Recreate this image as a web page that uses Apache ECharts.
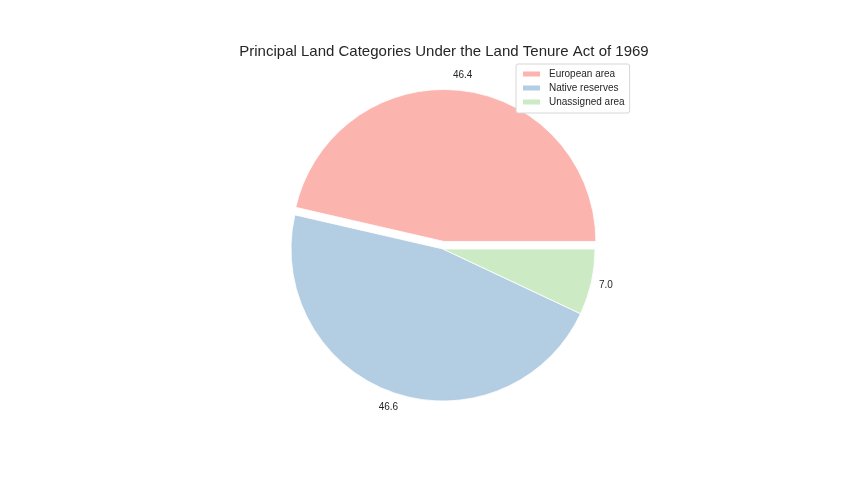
<!DOCTYPE html>
<html>
<head>
<meta charset="utf-8">
<script src="https://cdn.jsdelivr.net/npm/echarts@6/dist/echarts.min.js"></script>
<style>html,body{margin:0;padding:0;background:#fff}#c{width:864px;height:504px}</style>
</head>
<body>
<div id="c"></div>
<script>
var categories = ['European area', 'Native reserves', 'Unassigned area'];
var values = [46.4, 46.6, 7.0];
var colors = ['#fbb4ae', '#b3cde3', '#ccebc5'];
var exploded = [true, false, false];

var chart = echarts.init(document.getElementById('c'), null, {renderer: 'canvas'});
var mainData = categories.map(function (n, i) {
  return {name: n, value: values[i], selected: exploded[i], itemStyle: {color: colors[i]}};
});
var labelData = categories.map(function (n, i) {
  return {name: n, value: values[i], selected: exploded[i], itemStyle: {color: 'rgba(0,0,0,0)'}};
});
var option = {
  backgroundColor: '#ffffff',
  animation: false,
  title: {
    text: 'Principal Land Categories Under the Land Tenure Act of 1969',
    left: 439, top: 39, textAlign: 'center',
    textStyle: {fontFamily: 'Liberation Sans', fontSize: 15, fontWeight: 'normal', color: '#262626'}
  },
  legend: {
    data: categories,
    orient: 'vertical',
    left: 516, top: 64,
    padding: [5, 5, 6, 5],
    itemWidth: 19, itemHeight: 7, itemGap: 4,
    icon: 'rect',
    borderColor: '#d6d6d6', borderWidth: 1, borderRadius: 2,
    backgroundColor: '#ffffff',
    textStyle: {fontFamily: 'Liberation Sans', fontSize: 10, color: '#262626', padding: [0, 0, 0, 3]},
    selectedMode: false
  },
  series: [
    {
      type: 'pie',
      center: [443, 249],
      radius: [0, 152],
      startAngle: 0,
      clockwise: false,
      selectedMode: 'single',
      selectedOffset: 7.6,
      avoidLabelOverlap: false,
      label: {show: false},
      labelLine: {show: false},
      itemStyle: {borderColor: '#ffffff', borderWidth: 0.8},
      emphasis: {disabled: true, scale: false},
      select: {itemStyle: {borderColor: '#ffffff', borderWidth: 0.8}},
      data: mainData
    },
    {
      type: 'pie',
      silent: true,
      center: [443, 249],
      radius: [150, 178],
      startAngle: 0,
      clockwise: false,
      selectedMode: 'single',
      selectedOffset: 7.6,
      avoidLabelOverlap: false,
      label: {
        show: true, position: 'inside',
        fontFamily: 'Liberation Sans', fontSize: 10, color: '#262626',
        padding: [4, 0, 0, 0],
        formatter: function (p) { return p.value.toFixed(1); }
      },
      labelLine: {show: false},
      itemStyle: {borderWidth: 0},
      emphasis: {disabled: true, scale: false},
      select: {itemStyle: {borderWidth: 0}},
      data: labelData
    }
  ]
};
chart.setOption(option);
</script>
</body>
</html>
